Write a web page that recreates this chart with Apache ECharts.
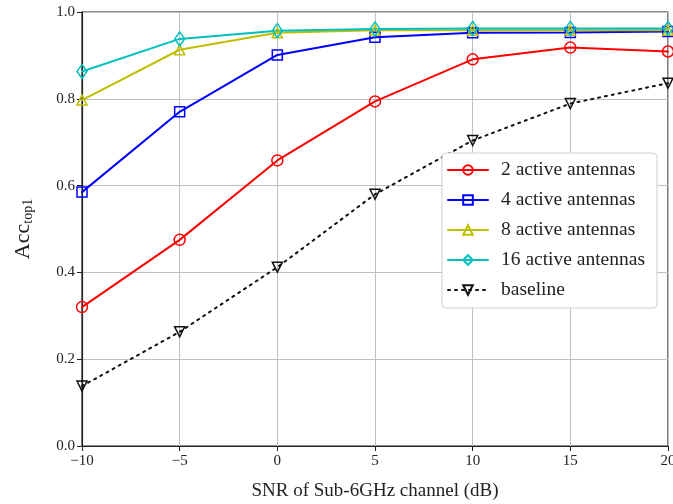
<!DOCTYPE html>
<html>
<head>
<meta charset="utf-8">
<script src="https://cdn.jsdelivr.net/npm/echarts@6/dist/echarts.min.js"></script>
<style>
  html, body { margin: 0; padding: 0; background: #fff; }
  #chart { width: 673px; height: 504px; }
</style>
</head>
<body>
<div id="chart"></div>
<script>
// SNR values (dB)
var snr = [-10, -5, 0, 5, 10, 15, 20];

// top-1 accuracy per setup
var ant2 = [0.320, 0.475, 0.658, 0.794, 0.891, 0.918, 0.909];
var ant4 = [0.585, 0.770, 0.901, 0.942, 0.952, 0.953, 0.955];
var ant8 = [0.797, 0.913, 0.952, 0.958, 0.958, 0.958, 0.958];
var ant16 = [0.863, 0.938, 0.957, 0.961, 0.962, 0.962, 0.962];
var baseline = [0.138, 0.263, 0.412, 0.580, 0.704, 0.789, 0.836];

var names = ['2 active antennas', '4 active antennas', '8 active antennas', '16 active antennas', 'baseline'];

var font = 'Liberation Serif, Times New Roman, serif';

function pairs(ys) {
  return snr.map(function (x, i) { return [x, ys[i]]; });
}

function mkSeries(name, ys, color, symbol, size, rotate, dotted) {
  return {
    name: name,
    type: 'line',
    data: pairs(ys),
    symbol: symbol,
    symbolSize: size,
    symbolRotate: rotate || 0,
    showAllSymbol: true,
    lineStyle: { color: color, width: 2, type: dotted ? [2, 5] : 'solid', cap: 'round' },
    itemStyle: { color: 'rgba(255,255,255,0)', borderColor: color, borderWidth: 1.5 },
    emphasis: { disabled: true },
    z: 3
  };
}

var chartDom = document.getElementById('chart');
var myChart = echarts.init(chartDom);
var option;

option = {
  animation: false,
  backgroundColor: '#fff',
  grid: {
    left: 82, right: 5, top: 12, bottom: 58,
    outerBoundsMode: 'none',
    containLabel: false,
    show: true, borderColor: '#222', borderWidth: 1.2
  },
  legend: {
    orient: 'vertical',
    left: 442,
    top: 153,
    data: names,
    backgroundColor: '#fff',
    borderColor: '#d0d0d0',
    borderWidth: 1,
    borderRadius: 4,
    padding: [7, 12, 8, 5],
    itemWidth: 40,
    itemHeight: 12,
    itemGap: 10,
    textStyle: { fontFamily: font, fontSize: 19.5, color: '#222', padding: [0, 0, 0, 8] }
  },
  xAxis: {
    type: 'value',
    min: -10, max: 20, interval: 5,
    name: 'SNR of Sub-6GHz channel (dB)',
    nameLocation: 'middle',
    nameGap: 36,
    nameTextStyle: { fontFamily: font, fontSize: 19, color: '#222' },
    axisLine: { onZero: false, lineStyle: { color: '#222', width: 1.2 } },
    axisTick: { show: true, inside: false, length: 5, lineStyle: { color: '#222' } },
    axisLabel: {
      fontFamily: font, fontSize: 15, color: '#222', margin: 8,
      formatter: function (v) { return String(v).replace('-', '\u2212'); }
    },
    splitLine: { show: true, lineStyle: { color: '#c0c0c0', width: 1 } }
  },
  yAxis: {
    type: 'value',
    min: 0, max: 1, interval: 0.2,
    name: '{a|Acc}{s|top1}',
    nameLocation: 'middle',
    nameRotate: 90,
    nameGap: 47,
    nameTextStyle: {
      rich: {
        a: { fontFamily: font, fontSize: 22, color: '#222' },
        s: { fontFamily: font, fontSize: 14, color: '#222', verticalAlign: 'bottom', padding: [10, 0, 0, 0] }
      }
    },
    axisLine: { show: true, onZero: false, lineStyle: { color: '#222', width: 1.2 } },
    axisTick: { show: true, inside: false, length: 5, lineStyle: { color: '#222' } },
    axisLabel: {
      fontFamily: font, fontSize: 15, color: '#222', margin: 7,
      formatter: function (v) { return v.toFixed(1); }
    },
    splitLine: { show: true, lineStyle: { color: '#c0c0c0', width: 1 } }
  },
  series: [
    mkSeries(names[0], ant2, '#ff0000', 'circle', 11),
    mkSeries(names[1], ant4, '#0000ff', 'rect', 10),
    mkSeries(names[2], ant8, '#bfbf00', 'triangle', 10),
    mkSeries(names[3], ant16, '#00bfbf', 'diamond', [10, 14]),
    mkSeries(names[4], baseline, '#111111', 'triangle', 10, 180, true)
  ]
};

option && myChart.setOption(option);
</script>
</body>
</html>
